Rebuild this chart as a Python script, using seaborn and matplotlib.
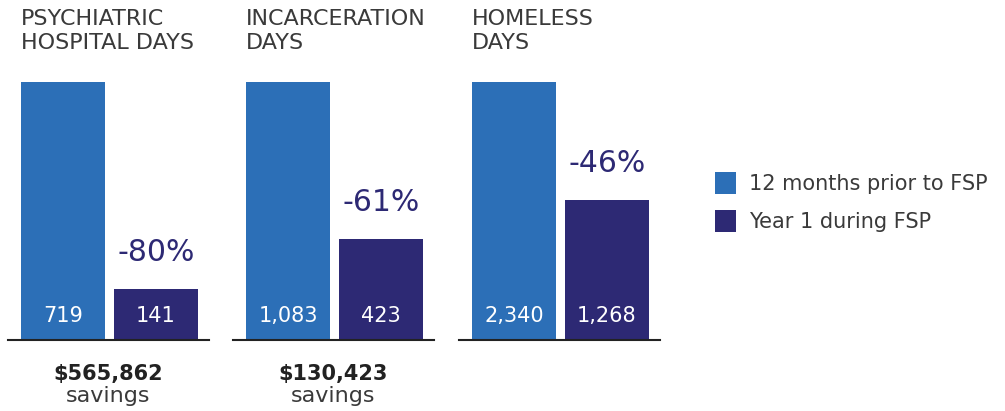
import matplotlib
matplotlib.use("Agg")
import matplotlib.pyplot as plt
import seaborn as sns
import pandas as pd

sns.set_style("white")
plt.rcParams['font.family'] = ['DejaVu Sans']

# ---- data ----
panels = ["PSYCHIATRIC\nHOSPITAL DAYS", "INCARCERATION\nDAYS", "HOMELESS\nDAYS"]
periods = ["12 months prior to FSP", "Year 1 during FSP"]
prior_values = [719, 1083, 2340]
during_values = [141, 423, 1268]
change_labels = ["-80%", "-61%", "-46%"]
savings_amounts = ["$565,862", "$130,423", ""]

BLUE = "#2C6FB7"
NAVY = "#2D2974"
TEXT = "#3a3a3a"
palette = {periods[0]: BLUE, periods[1]: NAVY}

W, H = 1005, 411
fig = plt.figure(figsize=(W / 100, H / 100), dpi=100)

def px_axes(left, top, width, height):
    return fig.add_axes([left / W, 1 - (top + height) / H, width / W, height / H])

panel_lefts = [8, 233, 459]
axes = []
for i, name in enumerate(panels):
    df = pd.DataFrame({"period": periods,
                       "days": [prior_values[i], during_values[i]]})
    ax = px_axes(panel_lefts[i], 82, 201, 258)
    sns.barplot(data=df, x="period", y="days", hue="period", palette=palette,
                order=periods, hue_order=periods, dodge=False, width=0.913,
                saturation=1, linewidth=0, ax=ax, legend=(i == 0))
    ax.set_xlim(-0.598, 1.576)
    ax.set_ylim(0, prior_values[i])
    ax.set_xticks([])
    ax.set_yticks([])
    ax.set_xlabel("")
    ax.set_ylabel("")
    for s in ["top", "right", "left"]:
        ax.spines[s].set_visible(False)
    ax.spines["bottom"].set_color("#222222")
    ax.spines["bottom"].set_linewidth(1.5)
    ax.patch.set_alpha(0)

    # value labels inside bars
    for j, v in enumerate([prior_values[i], during_values[i]]):
        ax.annotate(f"{v:,}", xy=(j, 0), xytext=(0, 13), textcoords="offset points",
                    ha="center", va="baseline", color="white", fontsize=15)
    # change label above second bar
    ax.annotate(change_labels[i], xy=(1, during_values[i]), xytext=(0, 20.5),
                textcoords="offset points", ha="center", va="baseline",
                color=NAVY, fontsize=21.5, annotation_clip=False)
    # title
    fig.text((panel_lefts[i] + 13) / W, 1 - 9 / H, name, ha="left", va="top",
             fontsize=16, color=TEXT, linespacing=1.25)
    # savings
    if savings_amounts[i]:
        cx = (panel_lefts[i] + 100.5) / W
        fig.text(cx, 1 - 380 / H, savings_amounts[i], ha="center", va="baseline",
                 fontsize=15, fontweight="bold", color="#222222")
        fig.text(cx, 1 - 402 / H, "savings", ha="center", va="baseline",
                 fontsize=16, color=TEXT)
    axes.append(ax)

handles, labels = axes[0].get_legend_handles_labels()
if axes[0].get_legend() is not None:
    axes[0].get_legend().remove()
leg = fig.legend(handles, labels, loc="upper left",
                 bbox_to_anchor=(707 / W, 1 - 164 / H), frameon=False,
                 fontsize=15, handlelength=1.0, handleheight=1.25,
                 labelspacing=0.75, handletextpad=0.6, borderaxespad=0)
for t in leg.get_texts():
    t.set_color(TEXT)

fig.savefig("out.png", dpi=100)
